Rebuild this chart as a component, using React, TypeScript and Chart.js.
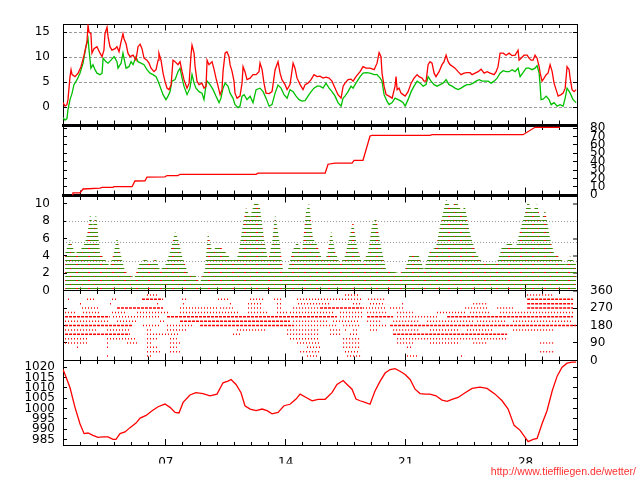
import React, { useEffect, useRef } from 'react';
import { Chart, registerables } from 'chart.js';

Chart.register(...registerables);

// ---------- x axis (day of month) ----------
const dayMin = 1;
const dayMax = 31;
const xLabelDays = [7, 14, 21, 28];
const xLabelTexts = ['07', '14', '21', '28'];

// ---------- panel 1: temperature / dew point [day, °C] ----------
const temperature: [number, number][] = [
  [1.00, 0.9], [1.12, 0.2], [1.23, 0.5], [1.29, 1.5], [1.41, 6.1], [1.47, 7.5], [1.53, 6.5], [1.70, 6.1], [1.88, 6.8],
  [2.05, 8.1], [2.23, 10.4], [2.40, 13.1], [2.46, 16.4], [2.52, 15.0], [2.63, 14.7], [2.69, 10.8], [2.81, 11.7], [2.98, 12.1],
  [3.16, 10.8], [3.28, 10.1], [3.39, 11.4], [3.45, 14.7], [3.57, 16.0], [3.63, 14.1], [3.74, 12.1], [3.86, 11.4], [4.04, 11.7],
  [4.15, 12.1], [4.27, 11.1], [4.39, 13.1], [4.50, 14.7], [4.56, 13.7], [4.68, 12.7], [4.79, 10.8], [4.91, 10.1], [5.09, 10.4],
  [5.26, 9.4], [5.38, 12.1], [5.50, 12.6], [5.61, 11.7], [5.73, 9.8], [5.90, 9.4], [6.02, 8.8], [6.14, 7.8], [6.31, 7.1],
  [6.43, 7.5], [6.55, 9.4], [6.60, 10.8], [6.72, 9.4], [6.84, 6.8], [6.95, 5.2], [7.07, 3.8], [7.19, 3.5], [7.31, 4.5],
  [7.42, 9.4], [7.54, 9.1], [7.71, 8.5], [7.83, 9.1], [7.95, 7.1], [8.06, 5.5], [8.24, 3.8], [8.36, 4.8], [8.47, 10.4],
  [8.53, 12.4], [8.65, 10.8], [8.71, 8.1], [8.82, 5.2], [8.94, 4.5], [9.11, 4.8], [9.23, 3.8], [9.35, 4.2], [9.41, 9.4],
  [9.52, 8.5], [9.70, 9.1], [9.82, 7.5], [9.93, 5.8], [10.05, 4.2], [10.17, 2.5], [10.28, 3.5], [10.34, 7.1], [10.46, 10.8],
  [10.57, 11.1], [10.69, 10.1], [10.75, 8.5], [10.87, 7.1], [10.98, 5.2], [11.04, 2.8], [11.16, 1.8], [11.33, 2.2], [11.45, 4.8],
  [11.51, 8.1], [11.62, 7.1], [11.74, 5.5], [11.92, 5.8], [12.09, 6.5], [12.27, 6.5], [12.44, 7.1], [12.50, 8.8], [12.62, 7.5],
  [12.73, 4.8], [12.85, 2.8], [13.03, 2.7], [13.20, 3.1], [13.38, 7.5], [13.55, 9.1], [13.67, 6.8], [13.78, 5.5], [13.96, 4.5],
  [14.08, 3.5], [14.25, 4.5], [14.43, 8.8], [14.54, 7.8], [14.66, 5.8], [14.84, 4.5], [15.01, 3.5], [15.13, 4.5], [15.30, 4.8],
  [15.48, 5.5], [15.65, 6.5], [15.83, 6.1], [16.00, 6.2], [16.18, 5.8], [16.35, 6.0], [16.53, 5.8], [16.70, 5.2], [16.88, 3.8],
  [17.05, 2.5], [17.23, 1.8], [17.35, 4.2], [17.46, 4.8], [17.64, 5.5], [17.81, 5.6], [17.93, 5.2], [18.10, 6.1], [18.34, 7.1],
  [18.51, 8.1], [18.69, 7.8], [18.92, 7.8], [19.16, 7.5], [19.33, 8.8], [19.45, 10.9], [19.56, 10.1], [19.62, 6.8], [19.74, 4.2],
  [19.86, 2.5], [20.03, 2.2], [20.21, 1.8], [20.38, 4.2], [20.44, 6.1], [20.50, 3.5], [20.61, 3.8], [20.73, 2.8], [20.85, 2.5],
  [20.97, 2.2], [21.14, 3.1], [21.32, 4.8], [21.49, 5.8], [21.67, 6.5], [21.78, 6.1], [21.96, 5.8], [22.07, 5.2], [22.19, 5.2],
  [22.31, 8.5], [22.42, 9.1], [22.54, 8.8], [22.66, 6.8], [22.77, 6.1], [22.95, 7.1], [23.12, 8.5], [23.24, 9.1], [23.36, 10.4],
  [23.48, 9.1], [23.59, 8.5], [23.77, 8.1], [23.88, 7.8], [24.06, 7.1], [24.23, 6.5], [24.41, 6.8], [24.58, 6.9], [24.76, 6.9],
  [24.88, 6.5], [25.05, 6.8], [25.23, 7.1], [25.40, 7.6], [25.58, 6.8], [25.75, 7.1], [25.93, 6.8], [26.16, 6.5], [26.28, 7.1],
  [26.39, 8.1], [26.51, 10.8], [26.69, 10.8], [26.86, 10.4], [27.04, 10.8], [27.21, 10.3], [27.39, 10.4], [27.56, 11.4], [27.62, 9.4],
  [27.74, 9.8], [27.91, 10.4], [28.09, 10.4], [28.20, 9.8], [28.32, 9.4], [28.44, 9.4], [28.55, 10.4], [28.67, 9.8], [28.79, 8.1],
  [28.85, 6.8], [28.96, 5.2], [29.08, 5.8], [29.20, 6.5], [29.31, 6.8], [29.43, 8.5], [29.55, 7.1], [29.66, 4.8], [29.78, 3.5],
  [29.90, 2.2], [30.07, 2.5], [30.19, 2.8], [30.31, 3.8], [30.42, 8.1], [30.54, 7.5], [30.60, 5.8], [30.71, 3.5], [30.83, 3.1],
  [30.95, 3.5],
];

const dewPoint: [number, number][] = [
  [1.00, -2.1], [1.12, -2.6], [1.23, -2.3], [1.29, -0.5], [1.41, 1.5], [1.53, 2.8], [1.64, 4.5], [1.82, 5.5], [1.99, 6.8],
  [2.17, 8.8], [2.34, 12.1], [2.46, 13.7], [2.52, 11.4], [2.63, 7.8], [2.75, 8.5], [2.87, 7.5], [2.98, 6.8], [3.16, 6.5],
  [3.28, 6.8], [3.34, 9.8], [3.51, 9.1], [3.63, 8.8], [3.80, 9.4], [3.98, 10.1], [4.15, 9.1], [4.21, 7.8], [4.39, 8.8],
  [4.50, 10.8], [4.68, 7.8], [4.85, 8.1], [4.97, 9.1], [5.09, 8.5], [5.26, 10.1], [5.38, 9.1], [5.55, 8.8], [5.73, 8.5],
  [5.90, 7.5], [6.08, 6.8], [6.25, 6.5], [6.43, 6.1], [6.55, 5.2], [6.66, 4.2], [6.84, 2.5], [7.01, 1.5], [7.13, 2.2],
  [7.25, 3.1], [7.36, 5.2], [7.54, 5.5], [7.71, 7.1], [7.83, 7.8], [7.95, 5.8], [8.06, 4.2], [8.24, 2.5], [8.41, 3.8],
  [8.53, 6.5], [8.65, 4.8], [8.76, 3.8], [8.94, 3.1], [9.11, 2.8], [9.23, 1.5], [9.35, 4.5], [9.41, 5.2], [9.58, 4.5],
  [9.76, 3.5], [9.93, 2.2], [10.11, 0.9], [10.22, 1.8], [10.34, 3.8], [10.46, 4.8], [10.63, 4.2], [10.75, 2.8], [10.92, 1.8],
  [11.04, 0.5], [11.22, -0.1], [11.33, 0.2], [11.45, 2.2], [11.57, 2.5], [11.74, 1.5], [11.92, 2.2], [12.09, 0.9], [12.27, 3.5],
  [12.50, 3.8], [12.68, 3.1], [12.85, 1.8], [13.03, 0.2], [13.20, 0.5], [13.38, 2.8], [13.55, 4.4], [13.73, 3.8], [13.90, 2.5],
  [14.08, 1.8], [14.25, 3.5], [14.43, 3.1], [14.60, 2.2], [14.78, 1.5], [14.95, 1.2], [15.13, 1.3], [15.30, 2.2], [15.48, 3.1],
  [15.65, 3.8], [15.83, 4.2], [16.00, 4.2], [16.18, 3.8], [16.35, 4.8], [16.53, 3.8], [16.70, 3.1], [16.88, 2.2], [17.05, 0.9],
  [17.23, 0.2], [17.35, 1.8], [17.46, 2.2], [17.64, 3.1], [17.81, 4.2], [17.93, 3.8], [18.10, 4.8], [18.34, 6.1], [18.51, 6.8],
  [18.69, 6.9], [18.92, 6.8], [19.16, 6.5], [19.33, 6.5], [19.51, 5.8], [19.62, 5.2], [19.74, 2.5], [19.91, 1.2], [20.03, 0.5],
  [20.21, 0.9], [20.38, 1.8], [20.56, 1.5], [20.73, 1.2], [20.85, 0.9], [20.97, 0.2], [21.14, 1.5], [21.32, 3.1], [21.49, 4.2],
  [21.67, 5.2], [21.84, 4.8], [22.02, 4.2], [22.19, 4.5], [22.31, 6.1], [22.48, 5.2], [22.66, 4.5], [22.83, 4.2], [23.01, 4.5],
  [23.18, 4.8], [23.36, 5.5], [23.53, 4.5], [23.71, 4.2], [23.88, 3.8], [24.06, 3.5], [24.23, 3.8], [24.41, 4.2], [24.58, 4.5],
  [24.76, 4.5], [24.94, 4.8], [25.11, 5.2], [25.29, 5.5], [25.46, 5.2], [25.64, 5.2], [25.81, 5.2], [25.99, 4.8], [26.16, 5.2],
  [26.34, 5.8], [26.51, 6.8], [26.69, 7.3], [26.86, 7.1], [27.04, 7.1], [27.21, 7.5], [27.39, 7.1], [27.56, 7.8], [27.68, 6.1],
  [27.85, 6.9], [28.03, 7.8], [28.20, 7.8], [28.38, 7.5], [28.55, 7.8], [28.67, 8.3], [28.79, 6.8], [28.85, 4.2], [28.90, 1.5],
  [29.02, 1.6], [29.20, 2.2], [29.37, 1.5], [29.49, 0.5], [29.66, 0.9], [29.84, 0.2], [30.01, 0.5], [30.19, 0.2], [30.31, 1.8],
  [30.42, 3.8], [30.60, 2.8], [30.77, 1.5], [30.95, 0.9],
];

// ---------- panel 2: accumulated rain [day, mm] ----------
const rainTotal: [number, number][] = [
  [1.53, 0], [1.58, 2.8], [1.99, 2.8], [2.17, 7.5], [3.16, 8.5], [3.28, 9.5], [3.92, 9.5], [3.98, 10.2], [5.03, 10.2],
  [5.20, 17.0], [5.79, 17.3], [5.90, 21.7], [6.95, 22.0], [7.07, 23.5], [7.71, 23.5], [7.83, 25.0], [12.27, 25.0],
  [12.38, 26.3], [16.30, 26.3], [16.47, 37.0], [16.88, 38.3], [17.87, 38.3], [17.99, 41.7], [18.51, 41.7], [18.92, 70.7],
  [19.04, 71.4], [22.42, 71.4], [22.54, 72.2], [27.85, 72.2], [28.55, 81.0], [30.01, 81.0],
];

// ---------- panel 3: wind speed upper envelope [day, m/s] ----------
const windMax: [number, number][] = [
  [1.12, 4.3], [1.41, 5.9], [1.70, 4.3], [1.99, 4.6], [2.28, 5.5], [2.46, 7.0], [2.58, 8.8], [2.75, 7.5], [2.93, 8.8],
  [3.16, 4.3], [3.45, 3.6], [3.74, 2.8], [3.98, 4.5], [4.15, 6.2], [4.39, 4.0], [4.62, 2.2], [4.91, 1.8], [5.15, 1.4],
  [5.50, 3.3], [5.79, 3.6], [6.08, 3.3], [6.43, 3.6], [6.66, 2.4], [6.95, 2.8], [7.25, 4.5], [7.54, 6.8], [7.71, 6.0],
  [7.95, 4.0], [8.30, 2.0], [8.71, 1.8], [8.99, 0.9], [9.29, 2.5], [9.46, 6.8], [9.70, 4.5], [10.05, 5.3], [10.46, 4.5],
  [10.87, 3.5], [11.22, 4.0], [11.45, 7.0], [11.68, 9.6], [11.92, 8.5], [12.15, 10.0], [12.33, 10.3], [12.50, 9.5],
  [12.73, 6.0], [12.97, 3.5], [13.20, 5.5], [13.38, 8.8], [13.61, 6.0], [13.84, 2.4], [14.14, 2.5], [14.37, 4.5],
  [14.66, 5.6], [14.95, 4.5], [15.18, 9.0], [15.36, 10.1], [15.59, 6.0], [15.83, 5.3], [16.12, 3.6], [16.41, 4.0],
  [16.65, 6.9], [16.88, 4.5], [17.17, 3.1], [17.46, 4.0], [17.75, 6.5], [17.93, 8.1], [18.16, 5.0], [18.46, 3.1],
  [18.81, 4.5], [19.04, 7.5], [19.27, 8.5], [19.56, 5.0], [19.86, 2.4], [20.21, 2.2], [20.67, 2.0], [20.97, 2.5],
  [21.26, 4.3], [21.72, 4.3], [22.07, 2.4], [22.42, 4.6], [22.77, 5.0], [23.01, 7.5], [23.36, 10.5], [23.65, 9.5],
  [23.94, 10.3], [24.23, 9.3], [24.47, 9.6], [24.76, 6.5], [25.11, 4.3], [25.46, 3.3], [25.93, 3.1], [26.34, 3.3],
  [26.63, 5.1], [27.09, 5.5], [27.44, 5.0], [27.68, 7.0], [27.91, 8.5], [28.14, 10.4], [28.38, 9.0], [28.67, 10.0],
  [28.90, 8.0], [29.14, 9.3], [29.43, 6.0], [29.66, 4.3], [30.01, 3.8], [30.31, 3.0], [30.60, 4.0], [30.95, 3.0],
];
const beaufortLimits = [1.6, 3.4, 5.5, 8.0];

// ---------- panel 4: wind direction rows [degrees, fromDay, toDay] ----------
const dirFrequent: [number, number, number][] = [
  [315, 5.61, 6.84], [315, 28.09, 30.77],
  [292.5, 28.09, 30.77],
  [270, 4.15, 6.84], [270, 16.0, 18.46], [270, 28.09, 30.77],
  [225, 1.12, 3.74], [225, 7.07, 16.99], [225, 18.75, 20.27], [225, 23.42, 30.77],
  [202.5, 7.83, 14.25],
  [180, 1.12, 5.09], [180, 9.0, 14.43], [180, 20.09, 30.95],
  [135, 1.12, 4.91], [135, 20.27, 26.92],
];
const dirOccasional: [number, number, number][] = [
  [337.5, 5.90, 6.55], [337.5, 17.46, 18.34], [337.5, 28.09, 29.61],
  [315, 1.29, 1.41], [315, 2.40, 2.87], [315, 3.86, 4.21], [315, 7.95, 8.24], [315, 10.05, 10.75], [315, 11.92, 12.68],
  [315, 13.32, 13.84], [315, 14.66, 18.46], [315, 18.81, 19.80],
  [292.5, 1.99, 2.17], [292.5, 3.74, 3.80], [292.5, 6.49, 6.66], [292.5, 8.0, 8.12], [292.5, 10.75, 10.92],
  [292.5, 11.80, 12.62], [292.5, 13.49, 13.84], [292.5, 14.72, 16.59], [292.5, 17.93, 18.46], [292.5, 18.92, 19.80],
  [292.5, 20.79, 20.85], [292.5, 24.94, 25.75],
  [270, 2.11, 3.16], [270, 7.83, 9.99], [270, 10.17, 10.92], [270, 11.80, 12.68], [270, 13.49, 13.84], [270, 14.43, 16.0],
  [270, 18.51, 19.91], [270, 20.09, 20.85], [270, 24.47, 25.75], [270, 26.34, 27.27],
  [247.5, 1.12, 1.82], [247.5, 2.17, 3.16], [247.5, 3.86, 4.74], [247.5, 5.32, 7.25], [247.5, 7.83, 11.33],
  [247.5, 11.80, 12.91], [247.5, 13.49, 14.08], [247.5, 14.25, 16.76], [247.5, 17.17, 18.46], [247.5, 18.75, 19.91],
  [247.5, 20.50, 21.43], [247.5, 22.83, 24.58], [247.5, 24.76, 25.93], [247.5, 26.51, 30.77],
  [225, 3.92, 6.66], [225, 17.17, 18.46], [225, 20.50, 22.83],
  [202.5, 1.12, 3.74], [202.5, 4.15, 5.32], [202.5, 6.66, 6.90], [202.5, 14.43, 16.41], [202.5, 16.76, 18.34],
  [202.5, 18.75, 19.51], [202.5, 20.27, 21.84], [202.5, 22.25, 24.94], [202.5, 25.17, 26.92], [202.5, 27.27, 30.77],
  [180, 5.67, 6.66], [180, 7.07, 8.59], [180, 14.43, 16.99], [180, 17.35, 18.34], [180, 18.92, 19.91],
  [157.5, 1.12, 2.98], [157.5, 3.57, 4.91], [157.5, 5.90, 6.25], [157.5, 7.07, 8.24], [157.5, 11.16, 12.91],
  [157.5, 14.08, 16.0], [157.5, 16.59, 17.17], [157.5, 17.46, 17.58], [157.5, 17.93, 18.16], [157.5, 18.92, 19.33],
  [157.5, 20.27, 21.84], [157.5, 22.42, 24.18], [157.5, 24.58, 26.10], [157.5, 27.27, 29.61],
  [135, 5.90, 7.83], [135, 10.92, 11.33], [135, 14.08, 16.0], [135, 16.59, 17.17], [135, 17.75, 18.16],
  [112.5, 1.12, 2.40], [112.5, 3.57, 5.32], [112.5, 5.90, 6.49], [112.5, 7.25, 7.65], [112.5, 14.25, 16.0],
  [112.5, 17.35, 18.34], [112.5, 20.50, 26.92],
  [90, 1.12, 2.40], [90, 3.57, 3.74], [90, 4.74, 5.32], [90, 5.90, 6.25], [90, 7.25, 7.83], [90, 14.66, 16.0],
  [90, 17.35, 18.34], [90, 20.50, 21.43], [90, 22.42, 24.18], [90, 24.94, 25.75], [90, 28.85, 29.61],
  [67.5, 1.82, 1.88], [67.5, 3.57, 3.63], [67.5, 5.90, 6.49], [67.5, 7.25, 7.65], [67.5, 15.24, 16.0],
  [67.5, 17.35, 18.34], [67.5, 21.08, 21.43],
  [45, 5.90, 6.66], [45, 7.25, 7.83], [45, 14.84, 16.0], [45, 17.46, 18.34], [45, 28.85, 29.61],
  [22.5, 3.57, 3.74], [22.5, 5.90, 6.25], [22.5, 15.24, 15.83], [22.5, 17.58, 18.34], [22.5, 21.08, 21.67], [22.5, 24.23, 24.41],
];

// ---------- panel 5: air pressure [day, hPa] ----------
const pressure: [number, number][] = [
  [1.00, 1018.8], [1.12, 1016.4], [1.41, 1010.0], [1.70, 1000.5], [1.99, 992.6], [2.23, 987.8], [2.46, 988.1], [2.75, 987.0],
  [3.04, 986.0], [3.34, 986.2], [3.63, 986.2], [3.92, 985.0], [4.09, 985.0], [4.33, 987.8], [4.62, 988.6], [4.91, 990.7],
  [5.26, 992.9], [5.50, 995.3], [5.85, 996.6], [6.20, 998.9], [6.55, 1000.8], [6.95, 1002.1], [7.25, 1000.5], [7.54, 998.1],
  [7.77, 997.8], [8.01, 1002.9], [8.41, 1006.5], [8.76, 1007.6], [9.17, 1007.2], [9.58, 1006.1], [9.99, 1006.9],
  [10.34, 1012.4], [10.63, 1013.2], [10.81, 1014.0], [11.10, 1011.6], [11.39, 1007.6], [11.62, 1001.3], [11.92, 999.7],
  [12.27, 998.9], [12.62, 999.7], [12.91, 998.9], [13.20, 997.4], [13.55, 998.1], [13.90, 1001.3], [14.25, 1002.0],
  [14.60, 1004.5], [14.84, 1006.9], [15.19, 1005.3], [15.54, 1003.7], [15.89, 1004.4], [16.30, 1004.4], [16.70, 1007.6],
  [16.99, 1011.6], [17.35, 1013.5], [17.58, 1011.6], [17.87, 1009.3], [18.10, 1004.5], [18.34, 1003.7], [18.63, 1002.9],
  [18.92, 1002.0], [19.21, 1008.4], [19.51, 1013.2], [19.80, 1017.1], [20.09, 1018.8], [20.38, 1019.2], [20.67, 1018.0],
  [20.97, 1016.4], [21.26, 1014.0], [21.55, 1009.3], [21.84, 1007.2], [22.13, 1006.9], [22.42, 1006.9], [22.77, 1006.1],
  [23.12, 1004.0], [23.42, 1003.4], [23.71, 1004.4], [24.06, 1005.3], [24.47, 1007.6], [24.88, 1009.7], [25.34, 1010.3],
  [25.75, 1009.7], [26.22, 1006.9], [26.63, 1003.7], [26.98, 999.7], [27.33, 991.8], [27.68, 989.4], [27.97, 986.0],
  [28.15, 983.9], [28.44, 985.0], [28.67, 985.5], [28.96, 992.6], [29.25, 998.9], [29.55, 1008.4], [29.84, 1015.6],
  [30.13, 1019.9], [30.42, 1021.9], [30.71, 1022.4], [30.95, 1022.4],
];

const watermark = 'http://www.tieffliegen.de/wetter/';

// ---------- styling / layout ----------
const FONT = 'DejaVu Sans';
const RED = '#ff0000';
const GREEN = '#00c000';
const WIND_GREEN = '#3c8c00';
const GRID_GREY = '#9a9a9a';
const MINOR_TICK = 3;
const MAJOR_TICK = 6;

type Panel = { id: string; right: string; min: number; max: number; step: number; weight: number; leftLabels: boolean; rightLabels: boolean; pad: number };
const panels: Panel[] = [
  { id: 'yT', right: 'r1', min: -3.67, max: 16.6, step: 5, weight: 103, leftLabels: true, rightLabels: false, pad: 17 },
  { id: 'yR', right: 'r2', min: 0, max: 83.2, step: 10, weight: 71, leftLabels: false, rightLabels: true, pad: 17 },
  { id: 'yW', right: 'r3', min: 0, max: 11, step: 2, weight: 97, leftLabels: true, rightLabels: false, pad: 17 },
  { id: 'yD', right: 'r4', min: 0, max: 360, step: 90, weight: 71, leftLabels: false, rightLabels: true, pad: 17 },
  { id: 'yP', right: 'r5', min: 982.3, max: 1023.2, step: 5, weight: 86, leftLabels: true, rightLabels: false, pad: 12 },
];

function windPattern(): CanvasPattern | string {
  const c = document.createElement('canvas');
  c.width = 12;
  c.height = 8;
  const g = c.getContext('2d');
  if (!g) return WIND_GREEN;
  g.fillStyle = WIND_GREEN;
  g.fillRect(0, 0, 12, 1);
  g.fillRect(0, 4, 12, 1);
  g.fillStyle = RED;
  g.fillRect(4, 0, 2, 1);
  g.fillRect(10, 4, 1, 1);
  return g.createPattern(c, 'repeat') || WIND_GREEN;
}

const plainNumber = (v: any) => String(v);

function buildScales() {
  const font = { family: FONT, size: 12 };
  const scales: any = {};
  scales.x = {
    type: 'linear', axis: 'x', position: 'bottom', min: dayMin, max: dayMax, weight: 0,
    ticks: {
      stepSize: 1, autoSkip: false, maxRotation: 0, includeBounds: false, padding: 13.8, font, color: '#000',
      callback: (v: any) => {
        const i = xLabelDays.indexOf(Number(v));
        return i >= 0 ? xLabelTexts[i] : '';
      },
    },
    grid: { display: true, drawOnChartArea: false, drawTicks: true, tickLength: -MINOR_TICK, tickColor: '#000', tickWidth: 1 },
    border: { display: true, color: '#000', width: 1 },
    afterFit: (s: any) => { s.height = 18.4; },
  };

  panels.forEach((p, i) => {
    scales[p.id] = {
      type: 'linear', axis: 'y', position: 'left', stack: 'L', stackWeight: p.weight, weight: 5 - i,
      min: p.min, max: p.max,
      ticks: { stepSize: p.step, includeBounds: false, autoSkip: false, display: p.leftLabels, padding: p.pad, font, color: '#000', callback: plainNumber },
      grid: {
        display: true, drawOnChartArea: p.id === 'yT', color: GRID_GREY, lineWidth: 1,
        drawTicks: true, tickLength: -4, tickColor: '#000', tickWidth: 1,
      },
      border: { display: true, color: '#000', width: 1, dash: p.id === 'yT' ? [3, 2] : [] },
      afterFit: (s: any) => { s.width = 63; },
    };
  });

  panels.forEach((p, i) => {
    const bft = p.id === 'yW';
    const isLimit = (c: any) => c && c.tick && beaufortLimits.includes(c.tick.value);
    scales[p.right] = {
      type: 'linear', axis: 'y', position: 'right', stack: 'R', stackWeight: p.weight, weight: i + 1,
      min: p.min, max: p.max,
      ticks: { stepSize: p.step, includeBounds: false, autoSkip: false, display: p.rightLabels, padding: 17, font, color: '#000', callback: plainNumber },
      grid: {
        display: true, drawOnChartArea: bft, color: GRID_GREY,
        lineWidth: bft ? (c: any) => (isLimit(c) ? 1 : 0) : 1,
        drawTicks: true, tickLength: -4,
        tickColor: bft ? (c: any) => (isLimit(c) ? 'rgba(0,0,0,0)' : '#000') : '#000',
        tickWidth: bft ? (c: any) => (isLimit(c) ? 0 : 1) : 1,
      },
      border: { display: true, color: '#000', width: 1, dash: bft ? [1, 2] : [] },
      afterBuildTicks: bft
        ? (s: any) => {
            const vals = s.ticks.map((t: any) => t.value).concat(beaufortLimits);
            vals.sort((a: number, b: number) => a - b);
            s.ticks = vals.map((v: number) => ({ value: v }));
          }
        : undefined,
      afterFit: (s: any) => { s.width = 59; },
    };
  });

  // day tick marks along every panel boundary
  const boundaries = [
    { ref: 'yT', value: panels[0].max, border: 1, up: false, down: true },
    { ref: 'yT', value: panels[0].min, border: 3, up: true, down: true },
    { ref: 'yR', value: panels[1].min, border: 3, up: true, down: true },
    { ref: 'yW', value: panels[2].min, border: 1, up: true, down: true },
    { ref: 'yD', value: panels[3].min, border: 1, up: true, down: true },
    { ref: 'yP', value: panels[4].min, border: 0, up: true, down: false },
  ];
  boundaries.forEach((b, bi) => {
    const dirs: number[] = [];
    if (b.down) dirs.push(1);
    if (b.up) dirs.push(-1);
    dirs.forEach((dir, di) => {
      ['minor', 'major'].forEach((kind) => {
        if (bi === 5 && kind === 'minor') return; // main x axis draws these
        const withBorder = di === 0 && kind === 'minor' && b.border > 0;
        const len = kind === 'major' ? MAJOR_TICK : MINOR_TICK;
        const tl = withBorder ? dir * len : dir * (len + b.border / 2);
        scales[`xb${bi}${dir > 0 ? 'd' : 'u'}${kind}`] = {
          type: 'linear', axis: 'x', position: { [b.ref]: b.value }, min: dayMin, max: dayMax,
          ticks: { display: false, stepSize: 1, autoSkip: false, includeBounds: false },
          grid: { display: true, drawOnChartArea: false, drawTicks: true, tickLength: tl, tickColor: '#000', tickWidth: 1 },
          border: { display: withBorder, color: '#000', width: b.border || 1 },
          afterBuildTicks: kind === 'major'
            ? (s: any) => { s.ticks = xLabelDays.map((v) => ({ value: v })); }
            : undefined,
        };
      });
    });
  });
  return scales;
}

export default function App() {
  const ref = useRef<HTMLCanvasElement>(null);
  useEffect(() => {
    const canvas = ref.current;
    if (!canvas) return;
    const toXY = (arr: [number, number][]) => arr.map(([x, y]) => ({ x, y }));
    const rows = (arr: [number, number, number][]) =>
      arr.flatMap(([d, s, e]) => [{ x: s, y: d as number | null }, { x: e, y: d as number | null }, { x: e, y: null }]);
    const line = { pointRadius: 0, tension: 0, fill: false, xAxisID: 'x' };
    const chart = new Chart(canvas, {
      type: 'line',
      data: {
        datasets: [
          { ...line, label: 'Temperatur', data: toXY(temperature), yAxisID: 'yT', borderColor: RED, borderWidth: 1.3 },
          { ...line, label: 'Taupunkt', data: toXY(dewPoint), yAxisID: 'yT', borderColor: GREEN, borderWidth: 1.3 },
          { ...line, label: 'Regen', data: toXY(rainTotal), yAxisID: 'yR', borderColor: RED, borderWidth: 1.3 },
          {
            ...line, label: 'Wind', data: toXY(windMax), yAxisID: 'yW', borderColor: 'rgba(0,0,0,0)', borderWidth: 0,
            backgroundColor: windPattern(), fill: 'origin',
          },
          { ...line, label: 'Richtung', data: rows(dirFrequent), yAxisID: 'yD', borderColor: RED, borderWidth: 1.5, borderDash: [3, 1], spanGaps: false },
          { ...line, label: 'Richtung2', data: rows(dirOccasional), yAxisID: 'yD', borderColor: RED, borderWidth: 1.5, borderDash: [1, 2], spanGaps: false },
          { ...line, label: 'Luftdruck', data: toXY(pressure), yAxisID: 'yP', borderColor: RED, borderWidth: 1.3 },
        ] as any,
      },
      options: {
        animation: false,
        responsive: false,
        devicePixelRatio: 1,
        events: [],
        layout: { padding: { top: 17, right: 4, bottom: 0, left: 0 }, autoPadding: false },
        scales: buildScales(),
        plugins: {
          legend: { display: false },
          tooltip: { enabled: false },
          title: {
            display: true, text: watermark, position: 'bottom', align: 'end', color: '#ff3030',
            font: { family: 'Liberation Sans', size: 10.5, weight: 'normal', lineHeight: 1.2 },
            padding: { top: 2, bottom: 2 },
          },
        },
      } as any,
    });
    return () => chart.destroy();
  }, []);
  return (
    <div style={{ position: 'fixed', left: 0, top: 0, width: 640, height: 480, background: '#fff' }}>
      <canvas ref={ref} width={640} height={480} style={{ display: 'block', width: 640, height: 480 }} />
    </div>
  );
}
